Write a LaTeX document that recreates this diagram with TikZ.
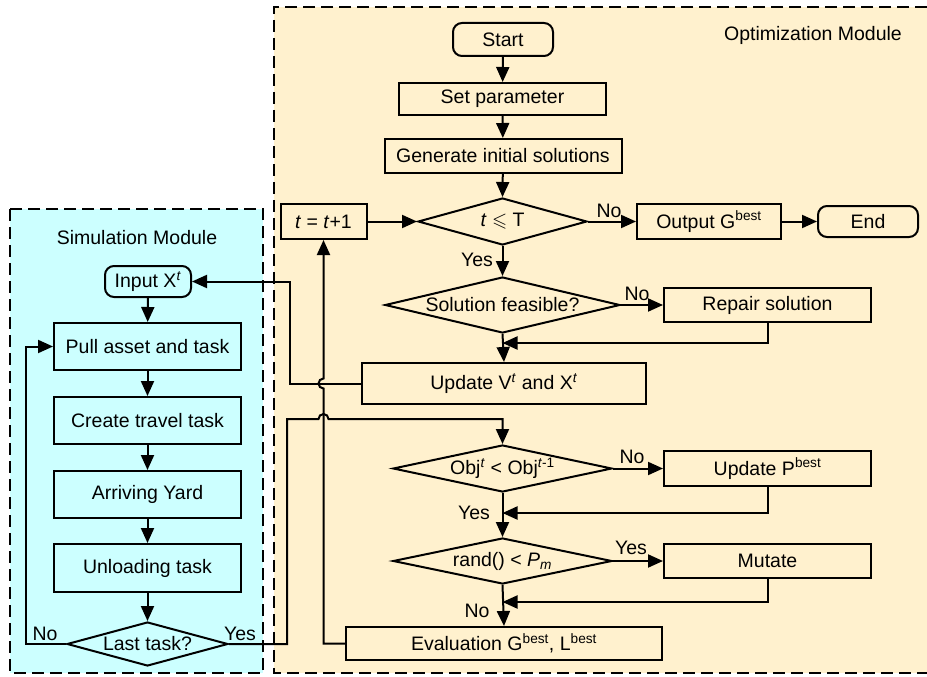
\documentclass[tikz,border=0pt]{standalone}
\usepackage{fontspec}
\setmainfont{Liberation Sans}
\usepackage{amssymb}
\usetikzlibrary{shapes.geometric,arrows.meta}
\definecolor{optfill}{RGB}{255,241,206}
\definecolor{simfill}{RGB}{204,255,255}
\tikzset{
  txt/.style={font=\fontsize{19.5}{23}\selectfont},
  proc/.style={txt, draw, line width=2pt, inner sep=0pt, minimum width=#1},
  proc/.default=200pt,
  term/.style={proc=#1, rounded corners=9pt},
  dec/.style={txt, diamond, draw, line width=2pt, inner sep=0pt},
  arr/.style={line width=2pt, -{Triangle[length=15pt,width=13pt]}},
  lbl/.style={txt, inner sep=0pt},
  modbox/.style={line width=2.4pt, dash pattern=on 12pt off 6pt}
}
\begin{document}
\begin{tikzpicture}[x=1pt,y=-1pt]
\useasboundingbox (0,0) rectangle (927,677);
% module backgrounds
\fill[optfill] (274,7) rectangle (927,673);
\draw[modbox] (927,7) -- (274,7) -- (274,673) -- (927,673);
\fill[simfill] (10,209) rectangle (263,673);
\draw[modbox] (10,209) rectangle (263,673);
\node[lbl] (simt) at (137,238) {Simulation Module};
\node[lbl] (optt) at (813,35) {Optimization Module};

% optimization nodes
\node[term=100pt, minimum height=33pt] (start) at (503,39.5) {Start};
\node[proc=207pt, minimum height=32pt] (setp) at (502.5,99) {Set parameter};
\node[proc=237pt, minimum height=34pt] (gen) at (503,156) {Generate initial solutions};
\node[dec, aspect=3.6, minimum width=169pt, minimum height=47pt] (dt) at (502.5,221.5) {\textit{t} $\leqslant$ T};
\node[proc=86pt, minimum height=35pt] (tinc) at (323.5,221.5) {\textit{t} = \textit{t}+1};
\node[proc=144pt, minimum height=35pt] (out) at (709,221.5) {Output G\textsuperscript{best}};
\node[term=100pt, minimum height=31pt] (endn) at (868,221.5) {End};
\node[dec, aspect=4.2, minimum width=235pt, minimum height=56pt] (feas) at (502.5,305) {Solution feasible?};
\node[proc=207pt, minimum height=34pt] (rep) at (767.5,305) {Repair solution};
\node[proc=284pt, minimum height=41pt] (upd) at (504,383.5) {Update V\textsuperscript{\textit{t}} and X\textsuperscript{\textit{t}}};
\node[dec, aspect=4.66, minimum width=219pt, minimum height=47pt] (obj) at (502.5,468.5) {Obj\textsuperscript{\textit{t}} < Obj\textsuperscript{\textit{t}-1}};
\node[proc=207pt, minimum height=35pt] (updp) at (767.5,468.5) {Update P\textsuperscript{best}};
\node[dec, aspect=4.76, minimum width=219pt, minimum height=46pt] (rnd) at (502.5,561) {rand() < \textit{P\textsubscript{m}}};
\node[proc=207pt, minimum height=34pt] (mut) at (767.5,561) {Mutate};
\node[proc=316pt, minimum height=33pt] (evl) at (504,643.5) {Evaluation G\textsuperscript{best}, L\textsuperscript{best}};

% simulation nodes
\node[term=86pt, minimum height=31pt] (inp) at (148,281.5) {Input X\textsuperscript{\textit{t}}};
\node[proc=187pt, minimum height=47pt] (pull) at (147.5,346.5) {Pull asset and task};
\node[proc=187pt, minimum height=47pt] (crt) at (147.5,420.5) {Create travel task};
\node[proc=187pt, minimum height=47pt] (ary) at (147.5,494.5) {Arriving Yard};
\node[proc=187pt, minimum height=48pt] (unl) at (147.5,568) {Unloading task};
\node[dec, aspect=3.66, minimum width=161pt, minimum height=44pt] (last) at (147.5,644) {Last task?};

% optimization connectors
\draw[arr] (start) -- (setp);
\draw[arr] (setp) -- (gen);
\draw[arr] (gen) -- (dt.north);
\draw[arr] (dt.east) -- (out.west);
\draw[arr] (out) -- (endn);
\draw[arr] (tinc) -- (dt.west);
\draw[arr] (dt.south) -- (feas.north);
\draw[arr] (feas.east) -- (rep.west);
\draw[arr] (feas.south) -- (upd.north);
\draw[arr] (rep.south) |- (feas.south |- 0,343);
\draw[arr] (obj.east) -- (updp.west);
\draw[arr] (obj.south) -- (rnd.north);
\draw[arr] (updp.south) |- (obj.south |- 0,513);
\draw[arr] (rnd.east) -- (mut.west);
\draw[arr] (rnd.south) -- (evl.north);
\draw[arr] (mut.south) |- (rnd.south |- 0,602);

% feedback to t = t+1 with jump over Update line
\draw[arr] (evl.west) -- (323.5,643.5) -- (323.5,388.5)
  arc[start angle=270, end angle=90, radius=5pt] -- (tinc.south);
% Update -> Input X^t
\draw[arr] (upd.west) -- (290,383.5) -- (290,281.5) -- (inp.east);

% simulation connectors
\draw[arr] (inp) -- (pull);
\draw[arr] (pull) -- (crt);
\draw[arr] (crt) -- (ary);
\draw[arr] (ary) -- (unl);
\draw[arr] (unl) -- (last.north);
\draw[arr] (last.west) -- (26,644) -- (26,346.5) -- (pull.west);
\draw[arr] (last.east) -- (287,644) -- (287,419) -- (318.5,419)
  arc[start angle=180, end angle=0, radius=5pt] -- (obj.north |- 0,419) -- (obj.north);

% labels
\node[lbl] (l1) at (609,211) {No};
\node[lbl] (l2) at (477,260) {Yes};
\node[lbl] (l3) at (637,294) {No};
\node[lbl] (l4) at (632,457) {No};
\node[lbl] (l5) at (474,513) {Yes};
\node[lbl] (l6) at (631,548) {Yes};
\node[lbl] (l7) at (477,611) {No};
\node[lbl] (l8) at (45,634) {No};
\node[lbl] (l9) at (240,634) {Yes};
\end{tikzpicture}
\end{document}
